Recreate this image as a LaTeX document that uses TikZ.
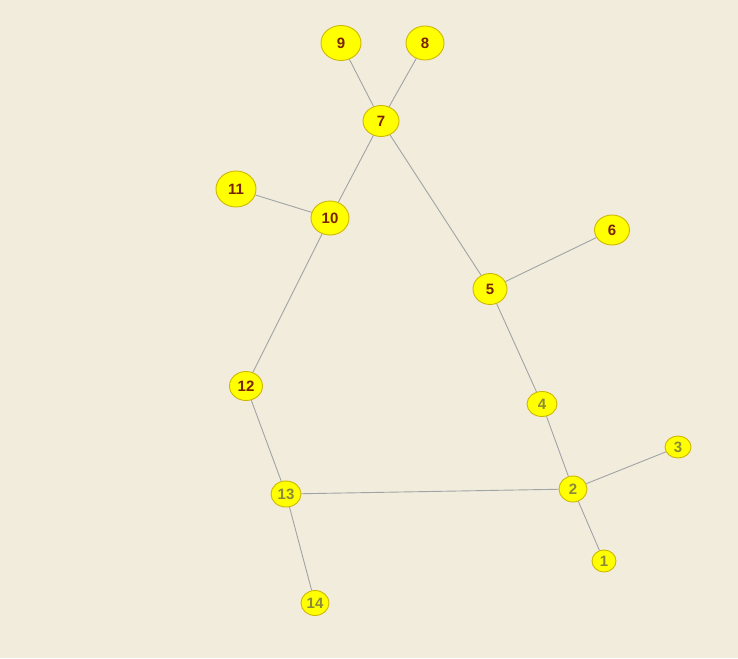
\documentclass[tikz,border=0pt]{standalone}
\usepackage{fontspec}
\setmainfont{Liberation Sans}
\usetikzlibrary{shapes.geometric}
\definecolor{bg}{HTML}{F2ECDD}
\definecolor{nodefill}{HTML}{FFFF00}
\definecolor{nodeline}{HTML}{CDB800}
\definecolor{darklbl}{HTML}{7A2200}
\definecolor{lightlbl}{HTML}{8A8A3A}
\definecolor{edgecol}{HTML}{A0A4A4}
\tikzset{
  vtx/.style={ellipse, fill=nodefill, draw=nodeline, line width=0.9pt, inner sep=0pt,
    font=\fontsize{15}{15}\selectfont\bfseries},
  dk/.style={text=darklbl},
  lt/.style={text=lightlbl},
  edge/.style={draw=edgecol, line width=0.9pt}
}
\begin{document}
\begin{tikzpicture}[x=1pt,y=-1pt]
\fill[bg] (0,0) rectangle (738,658);
\useasboundingbox (0,0) rectangle (738,658);
\node[vtx,dk,minimum width=40pt,minimum height=35pt] (n9) at (341,43) {9};
\node[vtx,dk,minimum width=38pt,minimum height=34pt] (n8) at (425,43) {8};
\node[vtx,dk,minimum width=36pt,minimum height=31pt] (n7) at (381,121) {7};
\node[vtx,dk,minimum width=40pt,minimum height=36pt] (n11) at (236,189) {11};
\node[vtx,dk,minimum width=38pt,minimum height=34pt] (n10) at (330,218) {10};
\node[vtx,dk,minimum width=35pt,minimum height=30pt] (n6) at (612,230) {6};
\node[vtx,dk,minimum width=34pt,minimum height=31pt] (n5) at (490,289) {5};
\node[vtx,dk,minimum width=33pt,minimum height=29pt] (n12) at (246,386) {12};
\node[vtx,lt,minimum width=30pt,minimum height=26pt] (n13) at (286,494) {13};
\node[vtx,lt,minimum width=30pt,minimum height=25pt] (n4) at (542,404) {4};
\node[vtx,lt,minimum width=26pt,minimum height=22pt] (n3) at (678,447) {3};
\node[vtx,lt,minimum width=28pt,minimum height=26pt] (n2) at (573,489) {2};
\node[vtx,lt,minimum width=24pt,minimum height=22pt] (n1) at (604,561) {1};
\node[vtx,lt,minimum width=28pt,minimum height=25pt] (n14) at (315,603) {14};
\draw[edge] (n9) -- (n7);
\draw[edge] (n8) -- (n7);
\draw[edge] (n7) -- (n10);
\draw[edge] (n7) -- (n5);
\draw[edge] (n11) -- (n10);
\draw[edge] (n10) -- (n12);
\draw[edge] (n5) -- (n6);
\draw[edge] (n5) -- (n4);
\draw[edge] (n4) -- (n2);
\draw[edge] (n2) -- (n3);
\draw[edge] (n2) -- (n1);
\draw[edge] (n2) -- (n13);
\draw[edge] (n12) -- (n13);
\draw[edge] (n13) -- (n14);
\end{tikzpicture}
\end{document}
